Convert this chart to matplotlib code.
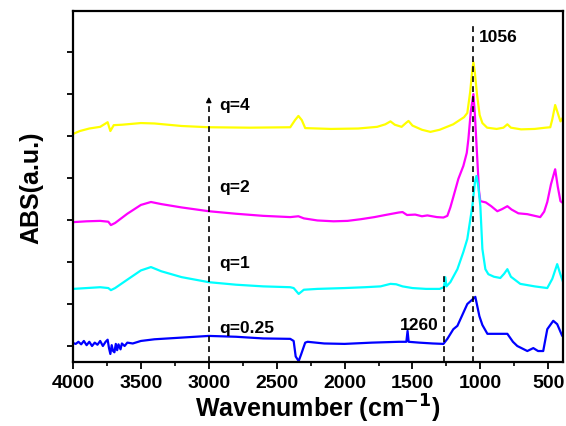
import numpy as np
import matplotlib.pyplot as plt
from matplotlib.ticker import MultipleLocator, NullFormatter

plt.rcParams['font.family'] = ['Liberation Sans', 'DejaVu Sans']
plt.rcParams['font.weight'] = 'bold'

# q = 4 (yellow)
wn_q4 = [4000, 3950, 3880, 3800, 3770, 3745, 3725, 3700, 3640, 3500, 3400, 3200, 3000, 2700,
         2400, 2365, 2340, 2315, 2290, 2100, 1900, 1760, 1700, 1662, 1630, 1580, 1545, 1529,
         1500, 1430, 1368, 1300, 1200, 1120, 1096, 1075, 1060, 1051, 1040, 1025, 1005, 985,
         950, 880, 830, 801, 775, 700, 600, 520, 485, 470, 449, 430, 410, 390]
abs_q4 = [5.05, 5.12, 5.18, 5.22, 5.28, 5.33, 5.12, 5.26, 5.27, 5.31, 5.30, 5.24, 5.21, 5.20,
          5.21, 5.38, 5.48, 5.38, 5.19, 5.17, 5.18, 5.22, 5.28, 5.35, 5.27, 5.22, 5.32, 5.36,
          5.25, 5.15, 5.10, 5.15, 5.28, 5.45, 5.55, 6.05, 6.55, 6.76, 6.50, 6.00, 5.50, 5.31,
          5.20, 5.17, 5.20, 5.28, 5.20, 5.16, 5.17, 5.20, 5.21, 5.40, 5.74, 5.55, 5.35, 5.45]

# q = 2 (magenta)
wn_q2 = [4000, 3900, 3800, 3740, 3721, 3690, 3600, 3500, 3426, 3350, 3200, 3000, 2800, 2600,
         2400, 2340, 2300, 2200, 2081, 1978, 1880, 1780, 1700, 1600, 1573, 1540, 1480, 1430,
         1390, 1320, 1272, 1243, 1221, 1199, 1162, 1125, 1100, 1088, 1070, 1051, 1040, 1025,
         1010, 1000, 960, 920, 875, 840, 801, 770, 720, 654, 600, 559, 530, 507, 480, 449,
         430, 410, 390]
abs_q2 = [2.95, 2.97, 2.98, 2.96, 2.88, 2.93, 3.15, 3.36, 3.43, 3.38, 3.30, 3.21, 3.15, 3.10,
          3.07, 3.09, 3.04, 2.99, 2.97, 2.98, 3.02, 3.07, 3.12, 3.18, 3.19, 3.12, 3.13, 3.09,
          3.11, 3.07, 3.06, 3.10, 3.30, 3.55, 3.98, 4.29, 4.60, 4.93, 5.60, 6.00, 5.50, 4.60,
          3.70, 3.45, 3.42, 3.33, 3.21, 3.26, 3.33, 3.25, 3.16, 3.14, 3.10, 3.07, 3.20, 3.43,
          3.85, 4.21, 3.80, 3.45, 3.40]

# q = 1 (cyan)
wn_q1 = [4000, 3900, 3800, 3740, 3721, 3690, 3600, 3500, 3426, 3350, 3200, 3000, 2800, 2600,
         2400, 2375, 2338, 2300, 2200, 2000, 1850, 1735, 1662, 1620, 1573, 1500, 1400, 1300,
         1268, 1258, 1250, 1221, 1169, 1125, 1096, 1059, 1040, 1029, 1015, 1000, 985, 963,
         941, 900, 853, 825, 801, 775, 706, 600, 507, 470, 434, 410, 390]
abs_q1 = [1.36, 1.38, 1.40, 1.38, 1.33, 1.38, 1.58, 1.80, 1.88, 1.78, 1.64, 1.52, 1.46, 1.42,
          1.40, 1.38, 1.24, 1.34, 1.36, 1.38, 1.40, 1.42, 1.48, 1.47, 1.42, 1.38, 1.36, 1.36,
          1.40, 1.64, 1.42, 1.52, 1.83, 2.24, 2.55, 3.33, 3.90, 4.05, 3.80, 3.33, 2.31, 1.83,
          1.71, 1.65, 1.62, 1.72, 1.83, 1.65, 1.48, 1.42, 1.38, 1.60, 1.95, 1.70, 1.52]

# q = 0.25 (blue)
wn_q025 = [4000, 3980, 3960, 3940, 3920, 3900, 3880, 3860, 3840, 3820, 3800, 3780, 3760, 3745,
           3735, 3725, 3715, 3705, 3695, 3685, 3675, 3665, 3650, 3640, 3620, 3600, 3560, 3500,
           3400, 3200, 3000, 2800, 2600, 2400, 2375, 2360, 2338, 2320, 2290, 2272, 2150, 2000,
           1800, 1600, 1545, 1536, 1528, 1450, 1350, 1272, 1243, 1199, 1169, 1096, 1037, 1007,
           985, 948, 875, 801, 760, 728, 654, 610, 575, 537, 507, 463, 434, 397, 390]
abs_q025 = [0.07, 0.05, 0.10, 0.04, 0.12, 0.02, 0.10, 0.00, 0.08, 0.03, 0.12, 0.00, 0.10, 0.15,
            -0.05, -0.19, 0.02, -0.12, -0.15, 0.05, -0.10, 0.04, -0.08, 0.06, 0.00, 0.08, 0.06, 0.12,
            0.16, 0.20, 0.24, 0.22, 0.18, 0.17, 0.12, -0.25, -0.36, -0.20, 0.08, 0.10, 0.06, 0.05,
            0.08, 0.10, 0.10, 0.36, 0.10, 0.08, 0.06, 0.05, 0.17, 0.40, 0.48, 1.00, 1.17, 0.71,
            0.50, 0.29, 0.29, 0.29, 0.10, 0.00, -0.12, -0.05, -0.12, -0.12, 0.40, 0.60, 0.52, 0.24, 0.25]

labels = ['q=4', 'q=2', 'q=1', 'q=0.25']
label_y = [5.76, 3.79, 2.0, 0.45]

fig = plt.figure(figsize=(5.66, 4.27), dpi=100)
ax = fig.add_axes([0.129, 0.150, 0.866, 0.822])

ax.plot(wn_q4, abs_q4, color='#ffff00', lw=1.6)
ax.plot(wn_q2, abs_q2, color='#ff00ff', lw=1.6)
ax.plot(wn_q1, abs_q1, color='#00ffff', lw=1.6)
ax.plot(wn_q025, abs_q025, color='#0000ff', lw=1.6)

ax.set_xlim(4000, 390)
ax.set_ylim(-0.38, 7.98)

# dashed guides
dash = (0, (3.5, 2.5))
ax.plot([3000, 3000], [-0.38, 5.85], color='black', lw=1.2, linestyle=dash)
ax.annotate('', xy=(3000, 6.0), xytext=(3000, 5.75),
            arrowprops=dict(arrowstyle='-|>,head_width=0.15,head_length=0.3', color='black', lw=1.0))
ax.plot([1051, 1051], [-0.38, 7.65], color='black', lw=1.2, linestyle=dash)
ax.plot([1265, 1265], [-0.38, 1.68], color='black', lw=1.2, linestyle=dash)

for lab, yy in zip(labels, label_y):
    ax.text(2920, yy, lab, fontsize=12.5, fontweight='bold', va='center', ha='left')
ax.text(1010, 7.38, '1056', fontsize=12.5, fontweight='bold', va='center', ha='left')
ax.text(1310, 0.52, '1260', fontsize=12.5, fontweight='bold', va='center', ha='right')

ax.xaxis.set_major_locator(MultipleLocator(500))
ax.xaxis.set_minor_locator(MultipleLocator(250))
ax.yaxis.set_major_locator(MultipleLocator(1))
ax.yaxis.set_major_formatter(NullFormatter())
ax.tick_params(axis='x', which='major', direction='out', length=5, width=1.3, labelsize=14, pad=4)
ax.tick_params(axis='x', which='minor', direction='out', length=3, width=1.2)
ax.tick_params(axis='y', which='major', direction='out', length=4, width=1.3)
for lab in ax.get_xticklabels():
    lab.set_fontweight('bold')
for s in ax.spines.values():
    s.set_linewidth(1.6)

ax.set_xlabel('Wavenumber (cm$^{\\mathbf{-1}}$)', fontsize=18, fontweight='bold', labelpad=0)
ax.set_ylabel('ABS(a.u.)', fontsize=18, fontweight='bold', labelpad=14)

fig.savefig('out.png', dpi=100)
